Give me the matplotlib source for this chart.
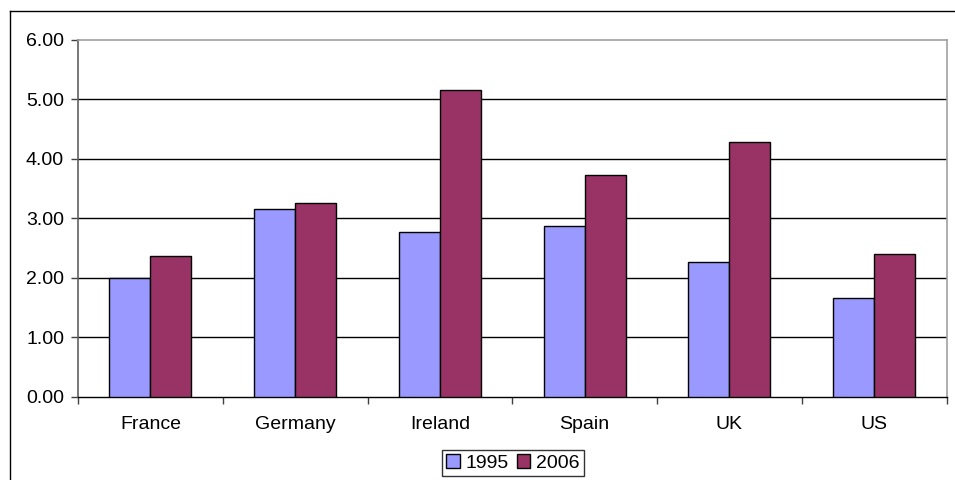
import matplotlib
matplotlib.use("Agg")
import matplotlib.pyplot as plt
import numpy as np
from matplotlib.lines import Line2D

categories = ["France", "Germany", "Ireland", "Spain", "UK", "US"]
series_names = ["1995", "2006"]
values_1995 = [1.99, 3.16, 2.77, 2.87, 2.26, 1.65]
values_2006 = [2.37, 3.25, 5.16, 3.72, 4.28, 2.39]
y_ticks = [0, 1, 2, 3, 4, 5, 6]
colors = ["#9999FF", "#993366"]

plt.rcParams['font.family'] = ['Liberation Sans', 'DejaVu Sans']
FS = 14

fig = plt.figure(figsize=(9.55, 4.8), dpi=100)
W, H = 955, 480
ax = fig.add_axes([78 / W, (H - 396.5) / H, (946.5 - 78) / W, (396.5 - 40) / H])

x = np.arange(len(categories))
bw = 0.283
ax.bar(x - bw / 2, values_1995, bw, color=colors[0], edgecolor="black", linewidth=1, label=series_names[0], zorder=3)
ax.bar(x + bw / 2, values_2006, bw, color=colors[1], edgecolor="black", linewidth=1, label=series_names[1], zorder=3)

ax.set_xlim(-0.5, len(categories) - 0.5)
ax.set_ylim(0, 6)
ax.set_yticks(y_ticks)
ax.set_yticklabels([f"{v:.2f}" for v in y_ticks], fontsize=FS)
ax.set_xticks(x)
ax.set_xticklabels(categories, fontsize=FS)
ax.tick_params(axis="x", which="major", length=0, pad=14)
ax.set_xticks(np.arange(-0.5, len(categories)), minor=True)
ax.tick_params(axis="x", which="minor", length=5, direction="out", color="#404040", width=1)
ax.tick_params(axis="y", length=5, direction="out", color="#404040", width=1, pad=5)

for v in y_ticks[1:-1]:
    ax.axhline(v, color="black", linewidth=1, zorder=1)

for side in ["top", "right"]:
    ax.spines[side].set_color("#A0A0A0")
    ax.spines[side].set_linewidth(1.2)
ax.spines["left"].set_color("#606060")
ax.spines["left"].set_linewidth(1.2)
ax.spines["bottom"].set_color("black")
ax.spines["bottom"].set_linewidth(1)

leg = fig.legend(loc="center", bbox_to_anchor=(513 / W, 1 - 463 / H), ncol=2, fontsize=FS,
                 frameon=True, fancybox=False, edgecolor="black", handlelength=0.7, handleheight=0.7,
                 handletextpad=0.3, columnspacing=0.4, borderpad=0.2, borderaxespad=0)
leg.get_frame().set_linewidth(1)

# outer chart frame
fig.add_artist(Line2D([9.5 / W, 9.5 / W], [0, 1 - 10.5 / H], color="black", linewidth=1, transform=fig.transFigure))
fig.add_artist(Line2D([9.5 / W, 1], [1 - 10.5 / H, 1 - 10.5 / H], color="black", linewidth=1, transform=fig.transFigure))

fig.savefig("out.png", dpi=100)
